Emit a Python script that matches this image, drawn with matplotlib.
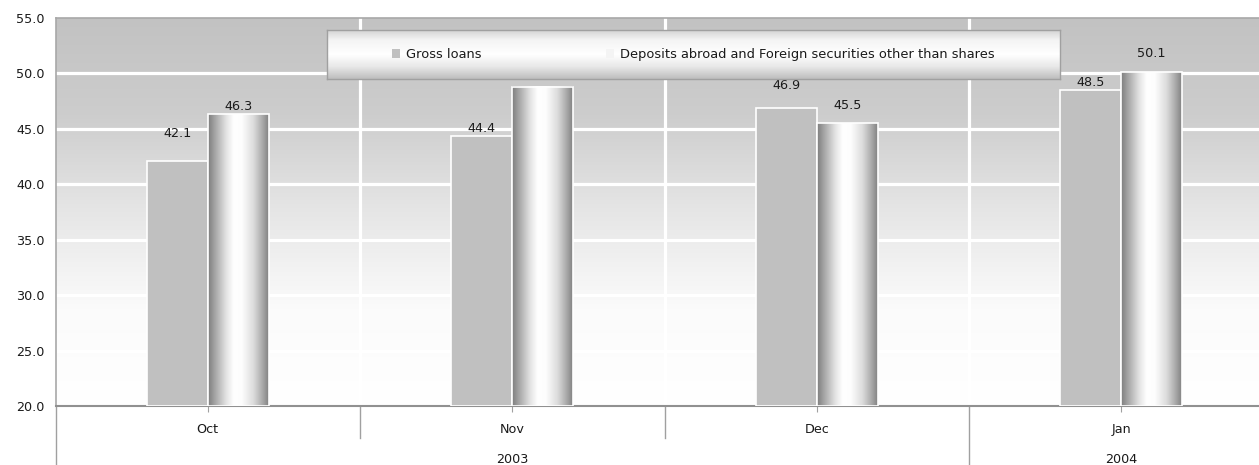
import numpy as np
import matplotlib
matplotlib.use("Agg")
import matplotlib.pyplot as plt
from matplotlib.colors import LinearSegmentedColormap
from matplotlib.patches import Patch, Rectangle
from matplotlib.transforms import blended_transform_factory

months = ["Oct", "Nov", "Dec", "Jan"]
years = ["2003", "2004"]
year_spans = [(0, 2), (3, 3)]  # first and last month index of each year
gross_loans = [42.1, 44.4, 46.9, 48.5]
deposits = [46.3, 48.8, 45.5, 50.1]
deposit_labels = ["46.3", None, "45.5", "50.1"]
series_names = ["Gross loans",
                "Deposits abroad and Foreign securities other than shares"]

# label lift above the bar top, in pixels
gross_lift = [28, 7, 22, 8]
dep_lift = [8, 0, 18, 19]

plt.rcParams["font.family"] = "DejaVu Sans"
plt.rcParams["hatch.color"] = "#b0b0b0"
plt.rcParams["hatch.linewidth"] = 1.0

W, H = 1259, 465
fig = plt.figure(figsize=(W / 100, H / 100), dpi=100)
ax_left, ax_top, ax_bot, ax_w = 55.5, 18, 406, 1218
ax = fig.add_axes([ax_left / W, 1 - ax_bot / H, ax_w / W, (ax_bot - ax_top) / H])

ymin, ymax = 20, 55
xmin, xmax = -0.5, 3.5

# plot area background: grey on top fading to white
bg = LinearSegmentedColormap.from_list("bg", ["#c2c2c2", "#cdcdcd", "#e6e6e6", "#fbfbfb", "#ffffff"])
grad = np.linspace(1, 0, 256).reshape(-1, 1)
ax.imshow(grad, extent=[xmin, xmax, ymin, ymax], aspect="auto", cmap=bg,
          origin="lower", zorder=0)

for y in range(25, 55, 5):
    ax.axhline(y, color="white", lw=2.3, zorder=1)
for x in (0.5, 1.5, 2.5):
    ax.axvline(x, color="white", lw=2.3, zorder=1)

bw = 0.2
x = np.arange(len(months))

ax.bar(x - bw / 2, [v - ymin for v in gross_loans], bw, bottom=ymin,
       color="#c0c0c0", edgecolor="white", linewidth=1.2, zorder=3)

# cylinder-like shading for the deposits bars
cyl = LinearSegmentedColormap.from_list(
    "cyl", [(0, "#7e7e7e"), (0.12, "#a8a8a8"), (0.3, "#e4e4e4"), (0.42, "#ffffff"),
            (0.56, "#fdfdfd"), (0.75, "#dcdcdc"), (0.9, "#a9a9a9"), (1, "#828282")])
shade = np.linspace(0, 1, 128).reshape(1, -1)
for xi, v in zip(x, deposits):
    ax.imshow(shade, extent=[xi, xi + bw, ymin, v], aspect="auto", cmap=cyl, zorder=3)
    ax.add_patch(Rectangle((xi, ymin), bw, v - ymin, fill=False,
                           edgecolor="white", linewidth=1.2, zorder=4))

for xi, v, lift in zip(x, gross_loans, gross_lift):
    ax.annotate(f"{v:.1f}", (xi - bw / 2, v), xytext=(0, lift), textcoords="offset pixels",
                ha="center", va="center", fontsize=9.2, color="#1a1a1a", zorder=5)
for xi, v, lab, lift in zip(x, deposits, deposit_labels, dep_lift):
    if lab is None:
        continue
    ax.annotate(lab, (xi + bw / 2, v), xytext=(0, lift), textcoords="offset pixels",
                ha="center", va="center", fontsize=9.2, color="#1a1a1a", zorder=5)

ax.set_xlim(xmin, xmax)
ax.set_ylim(ymin, ymax)
ax.set_yticks(range(20, 56, 5))
ax.set_yticklabels([f"{t:.1f}" for t in range(20, 56, 5)], fontsize=9.2, color="#1a1a1a")
ax.tick_params(axis="y", length=0, pad=8)
ax.set_xticks(x)
ax.set_xticklabels([])
ax.tick_params(axis="x", length=4, color="#a0a0a0", direction="out")

for side in ("top", "right", "left"):
    ax.spines[side].set_color("#a8a8a8")
    ax.spines[side].set_linewidth(1.2)
ax.spines["bottom"].set_color("#909090")
ax.spines["bottom"].set_linewidth(1.5)

# two-level category axis below the plot
tr = blended_transform_factory(ax.transData, ax.transAxes)
px = 1 / (ax_bot - ax_top)
for b in (0.5, 1.5):
    ax.plot([b, b], [0, -32 * px], color="#a0a0a0", lw=1, transform=tr, clip_on=False)
for b in (-0.5, 2.5):
    ax.plot([b, b], [0, -62 * px], color="#a0a0a0", lw=1, transform=tr, clip_on=False)
for xi, m in zip(x, months):
    ax.text(xi, -23 * px, m, transform=tr, ha="center", va="center", fontsize=9.2, color="#1a1a1a")
for (a, b), yr in zip(year_spans, years):
    ax.text((a + b) / 2, -53 * px, yr, transform=tr, ha="center", va="center",
            fontsize=9.2, color="#1a1a1a")

# legend panel with a glossy look
lx0, lx1, ly0, ly1 = 327, 1060, 30, 79
lax = fig.add_axes([lx0 / W, 1 - ly1 / H, (lx1 - lx0) / W, (ly1 - ly0) / H])
gloss = LinearSegmentedColormap.from_list(
    "gloss", [(0, "#bdbdbd"), (0.25, "#e8e8e8"), (0.5, "#ffffff"), (0.8, "#f4f4f4"), (1, "#d4d4d4")])
lax.imshow(np.linspace(0, 1, 128).reshape(-1, 1), extent=[0, 1, 0, 1], aspect="auto",
           cmap=gloss, origin="lower")
lax.set_xlim(0, 1)
lax.set_ylim(0, 1)
lax.set_xticks([])
lax.set_yticks([])
for s in lax.spines.values():
    s.set_color("#a0a0a0")
    s.set_linewidth(1.0)

handles = [Patch(facecolor="#c0c0c0", edgecolor="none"),
           Patch(facecolor="#f4f4f4", edgecolor="none", hatch="||")]
lax.legend(handles, series_names, loc="center", ncol=2, frameon=False, fontsize=9.4,
           handlelength=0.6, handleheight=0.6, handletextpad=0.5, columnspacing=9.5,
           labelcolor="#1a1a1a")

fig.savefig("out.png", dpi=100)
